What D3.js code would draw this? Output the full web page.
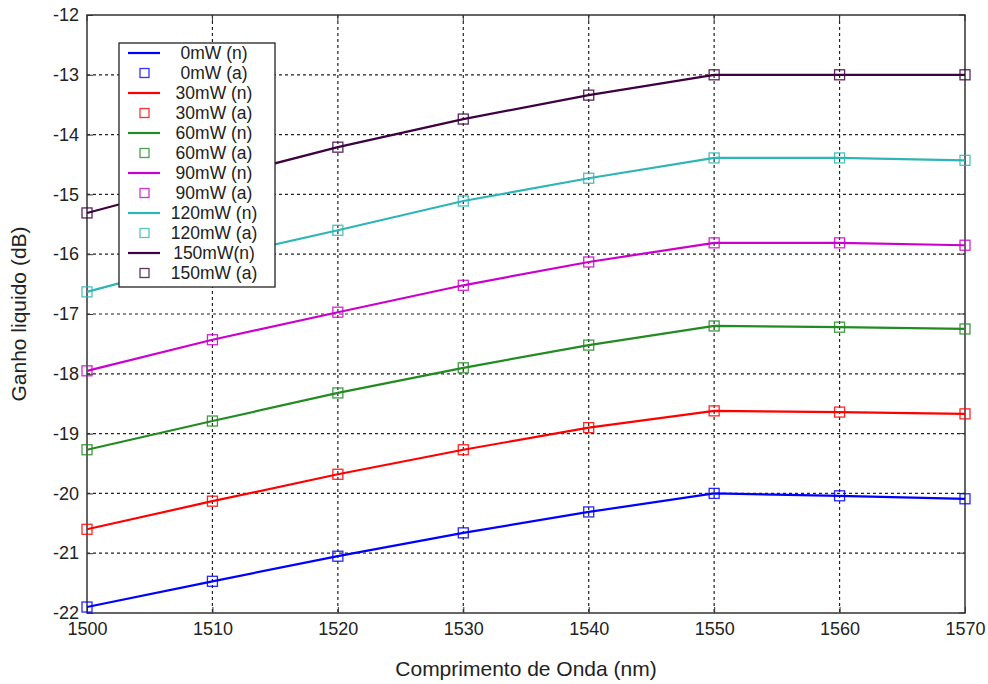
<!DOCTYPE html>
<html>
<head>
<meta charset="utf-8">
<script src="https://cdn.jsdelivr.net/npm/d3@7"></script>
<style>
  body { margin: 0; background: #fff; }
  text { font-family: "Liberation Sans", Arial, sans-serif; fill: #222; }
</style>
</head>
<body>
<script>
// data
const wavelengths = [1500, 1510, 1520, 1530, 1540, 1550, 1560, 1570];
const xTicks = [1500, 1510, 1520, 1530, 1540, 1550, 1560, 1570];
const yTicks = [-22, -21, -20, -19, -18, -17, -16, -15, -14, -13, -12];

const p0 = [-21.9, -21.47, -21.05, -20.66, -20.31, -20.0, -20.04, -20.09];
const p30 = [-20.6, -20.13, -19.68, -19.27, -18.9, -18.62, -18.64, -18.67];
const p60 = [-19.27, -18.79, -18.32, -17.9, -17.52, -17.2, -17.22, -17.25];
const p90 = [-17.95, -17.43, -16.97, -16.52, -16.13, -15.81, -15.81, -15.85];
const p120 = [-16.63, -16.07, -15.6, -15.11, -14.73, -14.39, -14.39, -14.43];
const p150 = [-15.31, -14.75, -14.21, -13.74, -13.34, -13.0, -13.0, -13.0];

const seriesNames = ["0mW", "30mW", "60mW", "90mW", "120mW", "150mW"];
const seriesValues = [p0, p30, p60, p90, p120, p150];
const colors = ["#0000ff", "#ff0000", "#228b22", "#cc00cc", "#2fb5b5", "#3d0040"];
const legendLabels = ["0mW (n)", "0mW (a)", "30mW (n)", "30mW (a)", "60mW (n)", "60mW (a)",
  "90mW (n)", "90mW (a)", "120mW (n)", "120mW (a)", "150mW(n)", "150mW (a)"];

const W = 988, H = 684;
const margin = {top: 15, right: 23, bottom: 71, left: 87};

const svg = d3.select("body").append("svg")
  .attr("width", W).attr("height", H);

const x = d3.scaleLinear().domain([1500, 1570]).range([margin.left, W - margin.right]);
const y = d3.scaleLinear().domain([-22, -12]).range([H - margin.bottom, margin.top]);

// grid
const grid = svg.append("g").attr("stroke", "#222").attr("stroke-width", 1.2)
  .attr("stroke-dasharray", "3,3");
grid.selectAll(".gx").data(xTicks.slice(1, -1)).join("line")
  .attr("x1", d => x(d)).attr("x2", d => x(d))
  .attr("y1", y(-12)).attr("y2", y(-22));
grid.selectAll(".gy").data(yTicks.slice(1, -1)).join("line")
  .attr("y1", d => y(d)).attr("y2", d => y(d))
  .attr("x1", x(1500)).attr("x2", x(1570));

// axes box
svg.append("rect")
  .attr("x", x(1500)).attr("y", y(-12))
  .attr("width", x(1570) - x(1500)).attr("height", y(-22) - y(-12))
  .attr("fill", "none").attr("stroke", "#333").attr("stroke-width", 1.5);

const xAxis = svg.append("g").attr("transform", `translate(0,${y(-22)})`)
  .call(d3.axisBottom(x).tickValues(xTicks).tickFormat(d3.format("d")).tickSizeInner(-6).tickSizeOuter(0).tickPadding(9));
const yAxis = svg.append("g").attr("transform", `translate(${x(1500)},0)`)
  .call(d3.axisLeft(y).tickValues(yTicks).tickFormat(d => d3.format("d")(d).replace("−", "-")).tickSizeInner(-6).tickSizeOuter(0).tickPadding(8));
[xAxis, yAxis].forEach(a => {
  a.select(".domain").remove();
  a.selectAll("line").attr("stroke", "#333");
  a.selectAll("text").attr("font-size", 18).attr("fill", "#222")
    .attr("font-family", "Liberation Sans, Arial, sans-serif");
});
// right-side ticks
svg.append("g").selectAll("line").data(yTicks).join("line")
  .attr("x1", x(1570)).attr("x2", x(1570) - 6)
  .attr("y1", d => y(d)).attr("y2", d => y(d)).attr("stroke", "#333");
svg.append("g").selectAll("line").data(xTicks).join("line")
  .attr("y1", y(-12)).attr("y2", y(-12) + 6)
  .attr("x1", d => x(d)).attr("x2", d => x(d)).attr("stroke", "#333");

// lines and markers
const line = d3.line().x((d, i) => x(wavelengths[i])).y(d => y(d));
seriesValues.forEach((vals, k) => {
  svg.append("path").datum(vals)
    .attr("d", line).attr("fill", "none")
    .attr("stroke", colors[k]).attr("stroke-width", 2.2);
  svg.append("g").selectAll("rect").data(vals).join("rect")
    .attr("x", (d, i) => x(wavelengths[i]) - 5).attr("y", d => y(d) - 5)
    .attr("width", 10).attr("height", 10)
    .attr("fill", "none").attr("stroke", colors[k]).attr("stroke-width", 1.3)
    .attr("stroke-opacity", 0.85);
});

// axis titles
svg.append("text").attr("x", (x(1500) + x(1570)) / 2).attr("y", 676)
  .attr("text-anchor", "middle").attr("font-size", 21).text("Comprimento de Onda (nm)");
svg.append("text").attr("transform", `translate(26,${(y(-12) + y(-22)) / 2}) rotate(-90)`)
  .attr("text-anchor", "middle").attr("font-size", 21).text("Ganho liquido (dB)");

// legend
const lg = svg.append("g");
lg.append("rect").attr("x", 119).attr("y", 43).attr("width", 156).attr("height", 244)
  .attr("fill", "#fff").attr("stroke", "#222").attr("stroke-width", 1.3);
legendLabels.forEach((lab, i) => {
  const k = Math.floor(i / 2);
  const ly = 53 + i * 20;
  if (i % 2 === 0) {
    lg.append("line").attr("x1", 128).attr("x2", 160).attr("y1", ly).attr("y2", ly)
      .attr("stroke", colors[k]).attr("stroke-width", 2.2);
  } else {
    lg.append("rect").attr("x", 140).attr("y", ly - 4.5).attr("width", 9).attr("height", 9)
      .attr("fill", "none").attr("stroke", colors[k]).attr("stroke-width", 1.3).attr("stroke-opacity", 0.8);
  }
  lg.append("text").attr("x", 214).attr("y", ly).attr("dy", "0.36em")
    .attr("text-anchor", "middle").attr("font-size", 17.5).text(lab);
});
</script>
</body>
</html>
